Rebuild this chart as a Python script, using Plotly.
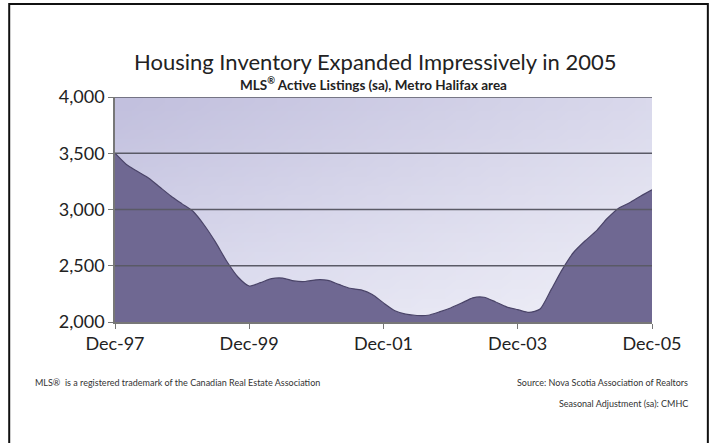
import base64
import struct
import zlib

import plotly.graph_objects as go
import pandas as pd

# Bi-monthly readings, Dec-1997 .. Dec-2005 (MLS active listings, sa)
start_month = "1997-12-01"
listings = [3500, 3400, 3340, 3280, 3200, 3120, 3050, 2980, 2860, 2710,
            2540, 2400, 2320, 2350, 2385, 2390, 2365, 2360, 2375, 2370,
            2335, 2300, 2285, 2245, 2170, 2100, 2070, 2058, 2060, 2090,
            2125, 2170, 2215, 2220, 2180, 2135, 2110, 2085, 2115, 2290,
            2470, 2620, 2720, 2810, 2920, 3010, 3060, 3120, 3175]
dates = pd.date_range(start_month, periods=len(listings), freq="2MS")

tick_vals = ["1997-12-01", "1999-12-01", "2001-12-01", "2003-12-01", "2005-12-01"]
tick_text = ["Dec-97", "Dec-99", "Dec-01", "Dec-03", "Dec-05"]
y_ticks = [2000, 2500, 3000, 3500, 4000]
y_text = ["2,000", "2,500", "3,000", "3,500", "4,000"]

FONT = "Lato, 'Open Sans', sans-serif"


def gradient_png(w, h, tl, tr, bl, br):
    rows = b""
    for j in range(h):
        v = j / (h - 1)
        rows += b"\x00"
        for i in range(w):
            u = i / (w - 1)
            px = [int(tl[k] * (1 - u) * (1 - v) + tr[k] * u * (1 - v) + bl[k] * (1 - u) * v + br[k] * u * v)
                  for k in range(3)]
            rows += bytes(px)

    def chunk(tag, data):
        c = struct.pack(">I", len(data)) + tag + data
        return c + struct.pack(">I", zlib.crc32(tag + data) & 0xffffffff)

    png = b"\x89PNG\r\n\x1a\n" + chunk(b"IHDR", struct.pack(">IIBBBBB", w, h, 8, 2, 0, 0, 0))
    png += chunk(b"IDAT", zlib.compress(rows)) + chunk(b"IEND", b"")
    return "data:image/png;base64," + base64.b64encode(png).decode()


bg = gradient_png(48, 24, (194, 192, 222), (218, 217, 236), (222, 222, 240), (240, 240, 248))

fig = go.Figure()
fig.add_trace(go.Scatter(
    x=dates, y=listings, mode="lines", line=dict(color="#4a4468", width=1.2, shape="spline", smoothing=0.6),
    fill="tozeroy", fillcolor="#6f6892", hoverinfo="skip", showlegend=False))

shapes = []
# page frame
shapes.append(dict(type="rect", xref="paper", yref="paper", x0=-0.197, x1=1.104, y0=-0.6, y1=1.413,
                   line=dict(color="#111111", width=2), fillcolor="rgba(0,0,0,0)"))
for v in [2500, 3000, 3500, 4000]:
    shapes.append(dict(type="line", xref="x domain", yref="y", x0=0, x1=1, y0=v, y1=v,
                       line=dict(color="#5a5a66", width=1.5), layer="above"))

fig.update_layout(
    width=711, height=443,
    margin=dict(l=115, r=59, t=97, b=121),
    paper_bgcolor="white", plot_bgcolor="rgba(0,0,0,0)",
    shapes=shapes,
    images=[dict(source=bg, xref="paper", yref="paper", x=0, y=1, sizex=1, sizey=1,
                 sizing="stretch", xanchor="left", yanchor="top", layer="below")],
    font=dict(family=FONT, color="#222222"),
    xaxis=dict(range=[dates[0], dates[-1]], tickvals=tick_vals, ticktext=tick_text,
               showgrid=False, showline=True, linecolor="#777777", linewidth=1.5,
               ticks="outside", ticklen=5, tickcolor="#777777",
               tickfont=dict(size=18, family=FONT, color="#222222"), zeroline=False),
    yaxis=dict(range=[2000, 4000], tickvals=y_ticks, ticktext=y_text,
               showgrid=False, showline=True, linecolor="#777777", linewidth=1.5,
               ticks="outside", ticklen=5, tickcolor="#777777",
               tickfont=dict(size=18, family=FONT, color="#222222"), zeroline=False),
    annotations=[
        dict(text="Housing Inventory Expanded Impressively in 2005", xref="paper", yref="paper",
             x=0.484, y=1.156, xanchor="center", yanchor="middle", showarrow=False,
             font=dict(size=22, family=FONT, color="#222222")),
        dict(text="<b>MLS<sup>®</sup> Active Listings (sa), Metro Halifax area</b>", xref="paper", yref="paper",
             x=0.482, y=1.058, xanchor="center", yanchor="middle", showarrow=False,
             font=dict(size=13.5, family=FONT, color="#222222")),
        dict(text="MLS®  is a registered trademark of the Canadian Real Estate Association",
             xref="paper", yref="paper", x=-0.153, y=-0.271, xanchor="left", yanchor="middle",
             showarrow=False, font=dict(size=9, family=FONT, color="#333333")),
        dict(text="Source: Nova Scotia Association of Realtors", xref="paper", yref="paper",
             x=1.071, y=-0.271, xanchor="right", yanchor="middle", showarrow=False,
             font=dict(size=9, family=FONT, color="#333333")),
        dict(text="Seasonal Adjustment (sa): CMHC", xref="paper", yref="paper",
             x=1.071, y=-0.36, xanchor="right", yanchor="middle", showarrow=False,
             font=dict(size=9, family=FONT, color="#333333")),
    ],
)

fig.write_html("out.html", config={"displayModeBar": False},
               post_script="document.body.style.margin='0';document.body.style.overflow='hidden';")
